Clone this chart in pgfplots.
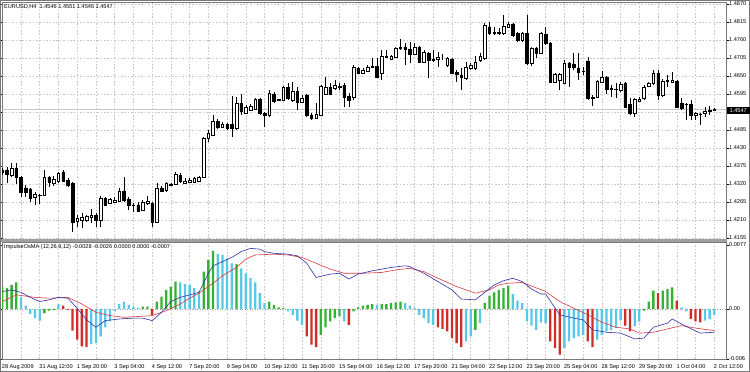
\documentclass[border=0pt]{standalone}
\usepackage{fontspec}
\setmainfont{Liberation Sans}
\usepackage{pgfplots}
\usepackage{pgfplotstable}
\pgfplotsset{compat=1.18}
\definecolor{gridc}{RGB}{200,200,200}
\definecolor{framec}{RGB}{120,120,120}
\definecolor{hgreen}{RGB}{52,178,52}
\definecolor{hcyan}{RGB}{88,200,230}
\definecolor{hred}{RGB}{208,44,40}
\definecolor{lblue}{RGB}{48,48,165}
\definecolor{lred}{RGB}{214,58,70}
\definecolor{bidc}{RGB}{200,200,200}

\pgfplotstableread{
i o h l c
0 1.4363 1.4369 1.4347 1.4357
1 1.4363 1.4372 1.4323 1.4350
2 1.4347 1.4384 1.4341 1.4369
3 1.4369 1.4384 1.4320 1.4341
4 1.4341 1.4344 1.4280 1.4295
5 1.4308 1.4317 1.4280 1.4295
6 1.4305 1.4308 1.4265 1.4277
7 1.4280 1.4295 1.4256 1.4289
8 1.4286 1.4289 1.4259 1.4285
9 1.4286 1.4363 1.4283 1.4341
10 1.4341 1.4344 1.4311 1.4326
11 1.4323 1.4344 1.4314 1.4335
12 1.4329 1.4357 1.4323 1.4354
13 1.4357 1.4363 1.4326 1.4329
14 1.4332 1.4338 1.4311 1.4317
15 1.4323 1.4326 1.4173 1.4204
16 1.4207 1.4225 1.4189 1.4216
17 1.4210 1.4231 1.4185 1.4219
18 1.4210 1.4225 1.4204 1.4222
19 1.4219 1.4244 1.4201 1.4225
20 1.4225 1.4231 1.4189 1.4210
21 1.4210 1.4283 1.4189 1.4277
22 1.4277 1.4280 1.4253 1.4256
23 1.4262 1.4277 1.4259 1.4274
24 1.4265 1.4280 1.4262 1.4271
25 1.4268 1.4308 1.4265 1.4299
26 1.4299 1.4341 1.4265 1.4271
27 1.4274 1.4280 1.4240 1.4256
28 1.4256 1.4262 1.4234 1.4255
29 1.4256 1.4265 1.4234 1.4237
30 1.4240 1.4271 1.4237 1.4265
31 1.4262 1.4283 1.4256 1.4268
32 1.4262 1.4265 1.4189 1.4204
33 1.4204 1.4323 1.4201 1.4308
34 1.4308 1.4314 1.4295 1.4299
35 1.4302 1.4326 1.4295 1.4323
36 1.4320 1.4323 1.4314 1.4317
37 1.4320 1.4357 1.4317 1.4350
38 1.4347 1.4354 1.4323 1.4329
39 1.4323 1.4338 1.4321 1.4329
40 1.4326 1.4338 1.4323 1.4332
41 1.4326 1.4341 1.4323 1.4338
42 1.4329 1.4344 1.4326 1.4341
43 1.4341 1.4464 1.4338 1.4460
44 1.4460 1.4485 1.4448 1.4476
45 1.4470 1.4531 1.4467 1.4512
46 1.4512 1.4519 1.4488 1.4494
47 1.4494 1.4509 1.4491 1.4503
48 1.4503 1.4506 1.4485 1.4491
49 1.4503 1.4589 1.4464 1.4491
50 1.4491 1.4586 1.4485 1.4567
51 1.4567 1.4595 1.4531 1.4543
52 1.4537 1.4561 1.4534 1.4555
53 1.4546 1.4564 1.4543 1.4558
54 1.4549 1.4583 1.4546 1.4580
55 1.4580 1.4583 1.4531 1.4537
56 1.4537 1.4540 1.4494 1.4531
57 1.4531 1.4607 1.4525 1.4598
58 1.4595 1.4601 1.4567 1.4574
59 1.4577 1.4580 1.4574 1.4578
60 1.4577 1.4619 1.4574 1.4616
61 1.4616 1.4629 1.4577 1.4583
62 1.4577 1.4632 1.4571 1.4604
63 1.4604 1.4616 1.4546 1.4571
64 1.4571 1.4592 1.4567 1.4583
65 1.4592 1.4595 1.4525 1.4531
66 1.4531 1.4537 1.4515 1.4522
67 1.4522 1.4567 1.4519 1.4534
68 1.4531 1.4622 1.4528 1.4619
69 1.4595 1.4647 1.4592 1.4616
70 1.4616 1.4629 1.4592 1.4595
71 1.4613 1.4638 1.4607 1.4622
72 1.4616 1.4629 1.4607 1.4619
73 1.4622 1.4629 1.4555 1.4586
74 1.4589 1.4598 1.4555 1.4577
75 1.4586 1.4684 1.4577 1.4677
76 1.4674 1.4677 1.4656 1.4659
77 1.4659 1.4674 1.4656 1.4668
78 1.4665 1.4684 1.4662 1.4677
79 1.4677 1.4705 1.4674 1.4680
80 1.4680 1.4705 1.4644 1.4647
81 1.4659 1.4729 1.4638 1.4711
82 1.4708 1.4729 1.4705 1.4709
83 1.4702 1.4714 1.4699 1.4711
84 1.4708 1.4739 1.4705 1.4736
85 1.4736 1.4763 1.4729 1.4739
86 1.4739 1.4751 1.4684 1.4732
87 1.4732 1.4754 1.4690 1.4717
88 1.4717 1.4751 1.4714 1.4739
89 1.4739 1.4742 1.4690 1.4693
90 1.4693 1.4729 1.4690 1.4723
91 1.4720 1.4723 1.4644 1.4699
92 1.4702 1.4729 1.4693 1.4699
93 1.4702 1.4723 1.4677 1.4708
94 1.4705 1.4717 1.4699 1.4705
95 1.4684 1.4708 1.4677 1.4705
96 1.4702 1.4705 1.4656 1.4659
97 1.4662 1.4668 1.4632 1.4656
98 1.4653 1.4674 1.4607 1.4647
99 1.4644 1.4693 1.4638 1.4677
100 1.4674 1.4690 1.4668 1.4684
101 1.4674 1.4711 1.4668 1.4693
102 1.4699 1.4720 1.4693 1.4711
103 1.4705 1.4812 1.4699 1.4806
104 1.4800 1.4815 1.4775 1.4781
105 1.4784 1.4800 1.4775 1.4781
106 1.4781 1.4797 1.4775 1.4784
107 1.4781 1.4836 1.4775 1.4803
108 1.4800 1.4815 1.4797 1.4809
109 1.4809 1.4812 1.4769 1.4775
110 1.4781 1.4784 1.4754 1.4760
111 1.4760 1.4784 1.4754 1.4781
112 1.4781 1.4836 1.4684 1.4690
113 1.4690 1.4739 1.4680 1.4736
114 1.4736 1.4739 1.4705 1.4720
115 1.4720 1.4784 1.4717 1.4781
116 1.4778 1.4800 1.4745 1.4751
117 1.4751 1.4754 1.4629 1.4632
118 1.4632 1.4659 1.4629 1.4656
119 1.4638 1.4659 1.4607 1.4656
120 1.4629 1.4699 1.4629 1.4690
121 1.4690 1.4693 1.4616 1.4677
122 1.4687 1.4720 1.4668 1.4677
123 1.4674 1.4720 1.4638 1.4662
124 1.4665 1.4677 1.4653 1.4664
125 1.4696 1.4708 1.4577 1.4583
126 1.4583 1.4592 1.4558 1.4586
127 1.4586 1.4638 1.4583 1.4635
128 1.4632 1.4665 1.4629 1.4647
129 1.4647 1.4650 1.4595 1.4610
130 1.4610 1.4622 1.4586 1.4611
131 1.4610 1.4629 1.4583 1.4609
132 1.4607 1.4632 1.4601 1.4626
133 1.4629 1.4631 1.4552 1.4555
134 1.4564 1.4583 1.4531 1.4537
135 1.4537 1.4583 1.4525 1.4580
136 1.4574 1.4586 1.4571 1.4580
137 1.4583 1.4622 1.4577 1.4616
138 1.4619 1.4632 1.4616 1.4629
139 1.4629 1.4668 1.4622 1.4659
140 1.4659 1.4668 1.4577 1.4592
141 1.4592 1.4641 1.4586 1.4635
142 1.4635 1.4653 1.4616 1.4636
143 1.4632 1.4662 1.4629 1.4638
144 1.4635 1.4638 1.4552 1.4555
145 1.4567 1.4583 1.4546 1.4552
146 1.4564 1.4567 1.4515 1.4563
147 1.4564 1.4577 1.4515 1.4531
148 1.4531 1.4540 1.4515 1.4537
149 1.4534 1.4537 1.4500 1.4533
150 1.4537 1.4555 1.4525 1.4543
151 1.4543 1.4558 1.4531 1.4544
152 1.4546 1.4551 1.4546 1.4547
}\candles

\pgfplotsset{
  mtbase/.style={
    scale only axis, anchor=south west, width=724pt,
    xmin=-0.05, xmax=154.5,
    axis line style={draw=framec, line width=0.7pt},
    tick label style={font=\fontsize{5.6}{6.5}\selectfont, text=black},
    yticklabel pos=right, tick align=outside,
    major tick length=2.5pt,
    ytick style={draw=black, line width=0.4pt},
    xtick style={draw=none},
    grid style={draw=gridc, dash pattern=on 1.6pt off 1.8pt, line width=0.45pt},
    yticklabel style={anchor=west, inner sep=0pt, xshift=0.5pt},
    scaled y ticks=false,
  }
}

\begin{document}
\begin{tikzpicture}[x=1pt,y=1pt]
\path[use as bounding box] (0,0) rectangle (750,372);
\fill[white] (0,0) rectangle (750,372);

% ---------- price pane ----------
\begin{axis}[mtbase, at={(2pt,133pt)}, height=237pt,
  ymin=1.41518, ymax=1.48761,
  xtick={0,4,...,152}, xticklabels={},
  xmajorgrids, ymajorgrids,
  ytick={1.4155,1.4210,1.4265,1.4320,1.4375,1.4430,1.4485,1.4540,1.4595,1.4650,1.4705,1.4760,1.4815,1.4870},
  yticklabels={1.4155,1.4210,1.4265,1.4320,1.4375,1.4430,1.4485,1.4540,1.4595,1.4650,1.4705,1.4760,1.4815,1.4870},
]
\addplot[bidc, line width=0.8pt, forget plot] coordinates {(-0.05,1.4547) (154.5,1.4547)};
\addplot[draw=none, mark=none, forget plot,
  error bars/.cd, y dir=plus, y explicit, error mark=none,
  error bar style={draw=black, line width=0.55pt, solid}]
  table[x=i, y=l, y error expr=\thisrow{h}-\thisrow{l}] {\candles};
\end{axis}

% ---------- candle bodies ----------
\begin{axis}[scale only axis, anchor=south west, at={(2pt,133pt)}, width=724pt, height=237pt,
  xmin=-0.05, xmax=154.5, ymin=1.41518, ymax=1.48761,
  hide axis, ybar stacked, bar width=2.6pt]
\addplot[draw=none, fill=none] table[x=i, y expr={min(\thisrow{o},\thisrow{c})}] {\candles};
\addplot[draw=black, fill=white, line width=0.5pt] table[x=i, y expr={max(\thisrow{c}-\thisrow{o},0)}] {\candles};
\addplot[draw=black, fill=black, line width=0.5pt] table[x=i, y expr={max(\thisrow{o}-\thisrow{c},0)}] {\candles};
\end{axis}

% ---------- indicator pane ----------
\begin{axis}[mtbase, at={(2pt,13pt)}, height=117pt,
  ymin=-0.006017, ymax=0.008063,
  xtick={0,4,...,152},
  xticklabels={28 Aug 2009,,31 Aug 12:00,,1 Sep 20:00,,3 Sep 04:00,,4 Sep 12:00,,7 Sep 20:00,,9 Sep 04:00,,10 Sep 12:00,,11 Sep 20:00,,15 Sep 04:00,,16 Sep 12:00,,17 Sep 20:00,,21 Sep 04:00,,22 Sep 12:00,,23 Sep 20:00,,25 Sep 04:00,,28 Sep 12:00,,29 Sep 20:00,,1 Oct 04:00,,2 Oct 12:00},
  xticklabel style={anchor=north west, inner sep=0pt, xshift=-0.5pt, yshift=-2.5pt},
  xmajorgrids,
  ytick={-0.006,0,0.0077},
  yticklabels={-0.006,0.00,0.0077},
]
\addplot[gridc!80!black, dash pattern=on 1pt off 1.5pt, line width=0.5pt, forget plot] coordinates {(-0.05,0) (154.5,0)};
\addplot[ybar, bar width=2.3pt, bar shift=0pt, fill=hgreen, draw=none] coordinates {
(0,0.0027)(1,0.0025)(2,0.0029)(3,0.0032)(9,-0.0005)(10,-0.0002)(11,-0.0001)(30,0.0003)(31,0.0003)
(33,0.0009)(34,0.0015)(35,0.0023)(36,0.0027)(37,0.0033)(43,0.0045)(44,0.0059)(45,0.0070)(50,0.0054)
(57,0.0009)(58,0.0005)(59,0.0002)(60,0.0001)(68,-0.0031)(69,-0.0022)(70,-0.0015)(71,-0.0011)(72,-0.0009)
(75,-0.0003)(76,0.0002)(77,0.0004)(78,0.0005)(79,0.0006)(81,0.0006)(82,0.0006)(83,0.0007)(84,0.0008)(85,0.0009)
(101,-0.0025)(103,0.0007)(104,0.0016)(105,0.0020)(106,0.0023)(107,0.0025)(108,0.0028)
(137,-0.0002)(138,0.0009)(139,0.0022)(141,0.0022)(142,0.0024)(143,0.0026)};
\addplot[ybar, bar width=2.3pt, bar shift=0pt, fill=hcyan, draw=none] coordinates {
(4,0.0014)(5,0.0004)(6,-0.0006)(7,-0.0011)(8,-0.0014)(12,0.0006)(19,-0.0042)(20,-0.0041)(21,-0.0033)
(22,-0.0022)(23,-0.0015)(24,-0.0003)(25,0.0006)(26,0.0009)(27,0.0005)(28,0.0003)(29,0.0001)
(38,0.0032)(39,0.0030)(40,0.0029)(41,0.0025)(42,0.0021)(46,0.0066)(47,0.0065)(48,0.0061)(49,0.0055)
(51,0.0049)(52,0.0043)(53,0.0037)(54,0.0032)(55,0.0019)(56,0.0007)(61,-0.0003)(62,-0.0007)(63,-0.0014)(64,-0.0019)
(73,-0.0015)(80,0.0005)(86,0.0007)(87,0.0004)(88,0.0001)(89,-0.0007)(90,-0.0011)(91,-0.0017)(92,-0.0019)
(99,-0.0039)(100,-0.0033)(102,-0.0017)(109,0.0018)(110,0.0010)(111,0.0007)(112,-0.0015)(113,-0.0020)
(114,-0.0025)(115,-0.0016)(116,-0.0017)(120,-0.0047)(121,-0.0039)(122,-0.0035)(123,-0.0033)(124,-0.0031)
(127,-0.0037)(128,-0.0031)(129,-0.0027)(130,-0.0025)(131,-0.0023)(132,-0.0013)(135,-0.0021)(136,-0.0015)
(145,0.0002)(146,-0.0003)(150,-0.0014)(151,-0.0012)(152,-0.0007)};
\addplot[ybar, bar width=2.3pt, bar shift=0pt, fill=hred, draw=none] coordinates {
(13,0.0004)(14,-0.0001)(15,-0.0026)(16,-0.0037)(17,-0.0045)(18,-0.0046)(32,-0.0007)(65,-0.0033)
(66,-0.0043)(67,-0.0046)(74,-0.0019)(93,-0.0022)(94,-0.0024)(95,-0.0027)(96,-0.0035)(97,-0.0041)
(98,-0.0046)(117,-0.0039)(118,-0.0047)(119,-0.0055)(125,-0.0039)(126,-0.0046)(133,-0.0020)(134,-0.0027)
(140,0.0019)(144,0.0010)(147,-0.0012)(148,-0.0015)(149,-0.0016)};
\addplot[lred, line width=0.6pt, mark=none] coordinates {
(0,0.0009)(3,0.0017)(7,0.0014)(10,0.0013)(14,0.0014)(17,0.0006)(20,-0.0004)(23,-0.0008)(26,-0.0010)
(29,-0.0009)(32,-0.0008)(35,-0.0002)(38,0.0006)(40,0.0013)(42,0.0019)(45,0.0031)(47,0.0040)(50,0.0050)
(52,0.0060)(54,0.0065)(58,0.0066)(61,0.0065)(64,0.0062)(67,0.0055)(70,0.0048)(73,0.0043)(77,0.0043)
(81,0.0044)(84,0.0047)(87,0.0049)(90,0.0045)(93,0.0037)(97,0.0027)(101,0.0019)(104,0.0023)(106,0.0029)
(108,0.0031)(111,0.0032)(116,0.0021)(119,0.0009)(122,0.0001)(125,-0.0007)(128,-0.0016)(131,-0.0022)
(134,-0.0024)(136,-0.0029)(139,-0.0028)(142,-0.0024)(145,-0.0020)(148,-0.0023)(152,-0.0026)};
\addplot[lblue, line width=0.6pt, mark=none] coordinates {
(0,0.0021)(2,0.0023)(4,0.0020)(6,0.0014)(8,0.0009)(10,0.0011)(12,0.0014)(14,0.0013)(16,0.0001)
(18,-0.0013)(20,-0.0022)(22,-0.0014)(25,-0.0012)(28,-0.0011)(30,-0.0011)(32,-0.0014)(34,-0.0004)
(36,0.0009)(38,0.0014)(40,0.0017)(42,0.0020)(44,0.0043)(45,0.0052)(47,0.0057)(49,0.0062)(51,0.0069)
(53,0.0073)(55,0.0072)(56,0.0069)(58,0.0067)(61,0.0066)(63,0.0064)(65,0.0055)(67,0.0038)(70,0.0042)
(72,0.0043)(74,0.0036)(76,0.0042)(79,0.0046)(83,0.0050)(86,0.0052)(87,0.0051)(90,0.0043)(93,0.0033)
(96,0.0023)(98,0.0012)(101,0.0011)(103,0.0020)(105,0.0029)(107,0.0034)(109,0.0037)(111,0.0033)
(113,0.0024)(115,0.0018)(116,0.0018)(119,-0.0007)(122,-0.0011)(124,-0.0013)(126,-0.0025)(129,-0.0028)
(132,-0.0029)(135,-0.0036)(137,-0.0035)(139,-0.0022)(142,-0.0017)(143,-0.0012)(146,-0.0021)
(149,-0.0029)(152,-0.0028)};
\end{axis}

% pane separator, outer frame
\fill[framec!70] (1,130) rectangle (726.5,133);
\draw[framec, line width=0.7pt] (0.5,0.5) rectangle (749.5,371.5);

% texts
\node[anchor=west, inner sep=0pt, font=\fontsize{5.6}{6.5}\selectfont] at (4,365.5) {EURUSD,H4\ \ 1.4546 1.4551 1.4546 1.4547};
\node[anchor=west, inner sep=0pt, font=\fontsize{5.6}{6.5}\selectfont] at (4,125) {ImpulseOsMA (12,26,9,12) -0.0028 -0.0026 0.0000 0.0000 -0.0007};
\node[anchor=west, fill=black, text=white, inner xsep=1.5pt, inner ysep=1.6pt, minimum width=23pt, font=\fontsize{5.6}{6.5}\selectfont] at (726.5,261.3) {1.4547};
\end{tikzpicture}
\end{document}
